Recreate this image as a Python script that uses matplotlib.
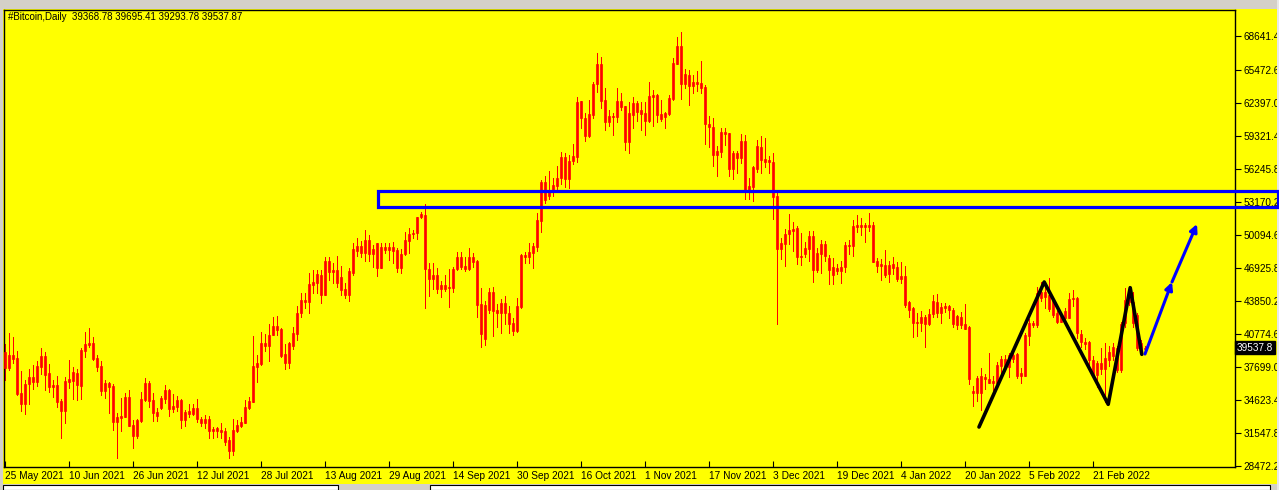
import math
import pandas as pd
import matplotlib
matplotlib.use('Agg')
import matplotlib.pyplot as plt
import matplotlib.transforms as mtransforms
from matplotlib.patches import Rectangle

plt.rcParams['font.family'] = ['Liberation Sans', 'DejaVu Sans']

# Daily bars, 25 May 2021 .. 6 Mar 2022 (all candles drawn red, so body top/bottom kept)
start_date = '2021-05-25'

body_hi = [
    39090, 38840, 38840, 38590, 35260, 36130, 36820, 36820, 37815, 38750,
    38750, 37192, 36040, 36040, 34545, 36413, 36570, 37285, 37192, 39310,
    39869, 39993, 39993, 38593, 37814, 36257, 36257, 35945, 33050, 33143,
    34918, 34918, 32302, 32769, 34731, 36257, 36257, 34638, 33486, 34855,
    35572, 35572, 34077, 34638, 34638, 33547, 33610, 33921, 33921, 32863,
    32863, 32863, 31929, 31991, 31835, 31742, 30901, 31835, 32302, 32551,
    33952, 34545, 37814, 38125, 39931, 39931, 40710, 41551, 41551, 41270,
    38935, 39931, 40866, 42734, 43980, 43980, 45474, 45661, 46409, 46315,
    47623, 47623, 46783, 46783, 46097, 45007, 46720, 48713, 49024, 49024,
    49585, 49585, 48713, 49273, 48900, 48900, 48900, 48900, 48651, 48277,
    49585, 50145, 50270, 51702, 52014, 51920, 46845, 46315, 46315, 45381,
    45381, 45225, 46876, 47966, 47966, 47156, 47966, 47966, 47623, 43575,
    43513, 44696, 44696, 43045, 43668, 43668, 42734, 41800, 43419, 48184,
    48184, 48495, 49024, 51453, 55034, 54973, 54100, 54724, 55378, 57371,
    57307, 56965, 57432, 62446, 62570, 60951, 61325, 64127, 65995, 65995,
    62664, 61169, 61169, 62570, 62570, 62103, 61418, 62352, 62352, 61729,
    61480, 63037, 63130, 63130, 61325, 61418, 62882, 66089, 67708, 67708,
    65061, 64999, 64314, 64314, 64220, 63909, 60422, 60110, 57899, 59643,
    59643, 59550, 57743, 57743, 58833, 58833, 54629, 56436, 58366, 58304,
    57152, 57059, 56903, 53696, 49273, 50145, 50520, 50613, 50737, 48090,
    48806, 49958, 49958, 48402, 49180, 49180, 47872, 47031, 46938, 47031,
    49118, 49118, 50893, 50986, 50986, 50986, 50986, 50986, 47623, 47343,
    47249, 47249, 47343, 47031, 46222, 46222, 43762, 43263, 41955, 42423,
    42423, 42641, 43886, 43824, 43357, 43450, 43450, 43045, 42516, 42423,
    41707, 41489, 35478, 36724, 36880, 36818, 36568, 36413, 37907, 38468,
    38468, 38842, 38842, 38935, 37129, 40710, 41800, 41800, 44603, 44696,
    44696, 44447, 43980, 42734, 42485, 42952, 44042, 44198, 44198, 40803,
    40025, 40087, 38374, 38063, 38063, 38530, 39091, 39620, 39464, 41738,
    43980, 44603, 43824, 42579, 39932, 39537.87,
]

body_lo = [
    37660, 37660, 38470, 35200, 34265, 34265, 36130, 36290, 36290, 37750,
    36974, 35884, 35884, 34483, 33640, 33640, 36350, 36413, 36040, 35980,
    39246, 39776, 38468, 37752, 35478, 35509, 35883, 32582, 32582, 32987,
    33081, 32240, 31306, 31306, 32707, 34638, 34576, 33454, 33174, 33921,
    34731, 33797, 33797, 34015, 32769, 32769, 33330, 33330, 32863, 32520,
    32520, 31742, 31742, 31742, 31617, 30745, 29873, 29873, 31742, 32240,
    32520, 33921, 34483, 37752, 38001, 39683, 39714, 40679, 41177, 38779,
    38063, 38100, 39700, 40803, 42734, 43824, 43824, 45381, 45599, 44447,
    44447, 46627, 46627, 45599, 44914, 44447, 44447, 46533, 48557, 48339,
    48339, 48277, 48277, 47000, 47000, 48651, 48651, 48589, 47000, 47000,
    48277, 49523, 50114, 50208, 51702, 46845, 45973, 45942, 45007, 45007,
    45007, 45070, 45132, 46845, 47031, 46845, 46845, 47560, 43513, 40803,
    40305, 43045, 42983, 42734, 42734, 42734, 41738, 41115, 41115, 43357,
    47966, 47966, 48402, 48962, 51391, 53322, 53700, 54257, 54630, 55346,
    55283, 55283, 56965, 57370, 61013, 59332, 59332, 61262, 64127, 62570,
    60640, 60640, 61107, 61107, 62041, 58771, 58771, 61262, 61574, 61356,
    60702, 60702, 62975, 61262, 60889, 61107, 61325, 62757, 66027, 64158,
    64158, 64003, 64003, 64158, 63816, 60422, 60110, 57525, 57525, 57837,
    59487, 56218, 56218, 57214, 57214, 54100, 54193, 54505, 56218, 57059,
    56903, 56903, 53633, 48744, 48713, 49180, 50114, 50425, 48028, 47965,
    48277, 48713, 46782, 46782, 48277, 48090, 46782, 46315, 46720, 46720,
    47031, 49024, 49024, 50831, 50831, 50831, 50831, 47560, 47187, 47187,
    46315, 46377, 46938, 45942, 45942, 43513, 43045, 41862, 41800, 41800,
    41738, 41738, 42641, 42796, 42796, 43201, 43045, 41738, 41644, 41644,
    41270, 36568, 35260, 35260, 35323, 36568, 36257, 36195, 36195, 37814,
    37752, 37752, 38437, 36880, 36880, 36880, 40617, 41644, 41644, 44135,
    44229, 43108, 42579, 41955, 41955, 42267, 42329, 44042, 40866, 40025,
    39869, 38374, 37067, 36973, 37534, 37534, 38374, 38779, 37440, 37441,
    41800, 43824, 41800, 39465, 39371, 39368.78,
]

highs = [
    39870, 40870, 40490, 39220, 37350, 36510, 37500, 37910, 38310, 39460,
    39154, 38000, 36510, 36880, 34700, 36818, 38375, 37750, 37500, 39465,
    40959, 41395, 40554, 38842, 38281, 36506, 36350, 36101, 33392, 34793,
    35323, 35572, 32769, 32831, 35416, 36724, 36413, 35323, 33921, 35043,
    36039, 35665, 35167, 35043, 34731, 33703, 34233, 34233, 34731, 33019,
    33236, 33143, 32085, 32085, 32458, 32053, 31212, 32863, 32769, 33019,
    34638, 34887, 40617, 38842, 40959, 40803, 41706, 42423, 42485, 41395,
    39869, 40100, 41488, 43419, 44665, 44603, 46471, 46783, 46783, 46783,
    48028, 48028, 47405, 48090, 47156, 45537, 46938, 49273, 49740, 49522,
    50519, 50052, 49118, 49336, 49336, 49273, 49273, 49429, 48806, 48713,
    50363, 50675, 50519, 51765, 52232, 52948, 47405, 47405, 46999, 45786,
    46315, 46845, 47031, 48495, 48495, 48028, 48806, 48339, 47716, 45070,
    43917, 45070, 45163, 43606, 44073, 44353, 43419, 42267, 44135, 48277,
    48495, 49336, 49336, 52076, 55190, 55564, 56050, 55400, 56500, 57800,
    57700, 57525, 58553, 62975, 62570, 61418, 62664, 64314, 67085, 66650,
    63753, 61729, 61418, 63816, 63286, 62103, 62508, 62975, 62570, 62446,
    62446, 64314, 63598, 63224, 62664, 61574, 63130, 66556, 68518, 69047,
    65559, 65466, 64999, 65373, 66307, 64065, 61169, 60951, 58366, 60079,
    60079, 59550, 57899, 57930, 59487, 59394, 55345, 56498, 58927, 59300,
    59145, 57432, 57743, 53945, 49803, 50613, 52013, 51298, 50893, 50208,
    49367, 50457, 50457, 48806, 49585, 49523, 48184, 47872, 47312, 47623,
    49429, 49585, 51453, 51920, 51609, 51142, 52076, 51235, 47872, 47810,
    48651, 47623, 48028, 47560, 47560, 47156, 43917, 43357, 42734, 42952,
    42579, 43108, 44447, 44540, 43668, 43730, 43513, 43201, 42579, 42890,
    43606, 41551, 35977, 36880, 37658, 37067, 39000, 36880, 38219, 38779,
    38842, 38997, 39153, 38997, 37596, 40866, 42174, 42049, 45225, 45692,
    45288, 46004, 44198, 42983, 42796, 43201, 44665, 44914, 44229, 41177,
    40398, 40181, 38779, 38312, 39464, 39931, 39682, 39931, 39713, 41900,
    45132, 45288, 44700, 42800, 40200, 39695.41,
]

lows = [
    36510, 37440, 38060, 35110, 33640, 33330, 34265, 35670, 35980, 37070,
    35570, 35355, 34890, 34016, 31120, 32521, 35790, 34732, 34640, 34731,
    38686, 39620, 38374, 37378, 35105, 34855, 33454, 31835, 29250, 31773,
    33019, 32240, 30185, 31057, 32614, 34576, 34015, 32676, 32707, 33766,
    34327, 33143, 33486, 33641, 32053, 32240, 33081, 33236, 32551, 32240,
    32053, 31057, 31057, 31212, 31119, 30434, 29250, 29500, 31617, 32146,
    32458, 33797, 34483, 36350, 37907, 39215, 38281, 40679, 40679, 38686,
    37534, 37600, 39400, 40243, 42423, 43263, 42796, 44602, 44602, 43730,
    44447, 45848, 45537, 45163, 44447, 44200, 43917, 46315, 48090, 48028,
    47654, 47654, 47031, 46253, 46938, 48402, 47716, 47467, 46627, 46533,
    48184, 48339, 49741, 49678, 51609, 43201, 44384, 44976, 44603, 44291,
    44852, 43357, 44696, 46783, 46845, 46720, 46783, 47031, 42423, 39620,
    39800, 42800, 40647, 41489, 40866, 41738, 40866, 40710, 41022, 43201,
    47467, 47405, 46938, 48588, 50363, 53000, 53400, 53700, 54200, 54800,
    54500, 54411, 56654, 56840, 60079, 58864, 59238, 61013, 63380, 61885,
    59861, 60235, 59394, 60577, 61729, 57992, 57743, 60079, 60702, 59861,
    59394, 60577, 60266, 60577, 60702, 60079, 61262, 62664, 66027, 62757,
    63753, 62197, 63286, 63504, 63286, 58553, 58303, 56529, 55563, 57370,
    58460, 55594, 55283, 55875, 56747, 53415, 53415, 53228, 55968, 55875,
    56436, 55812, 51547, 41737, 47810, 47187, 49211, 48588, 47312, 47249,
    48028, 47623, 45692, 46564, 46533, 47654, 45443, 45443, 46409, 45537,
    46564, 48277, 48090, 50301, 50052, 49429, 50457, 47498, 46627, 45848,
    46159, 45692, 46377, 45786, 45599, 43357, 42423, 40554, 40617, 41115,
    39620, 41644, 42423, 42423, 41800, 42890, 42267, 41489, 41240, 41333,
    41270, 36132, 34077, 34576, 33703, 35634, 36195, 35572, 36101, 36880,
    37596, 36818, 38219, 36662, 36257, 36880, 39776, 41426, 41489, 43917,
    43201, 42983, 42423, 41800, 41955, 42111, 42267, 43419, 40398, 39620,
    39371, 37752, 36818, 35883, 37036, 34483, 37814, 38374, 37223, 37300,
    41500, 43500, 41500, 39300, 38800, 39293.78,
]

last_bar = [39368.78, 39695.41, 39293.78, 39537.87]  # O H L C shown in the header

price_ticks = [68641.4, 65472.6, 62397.0, 59321.4, 56245.8, 53170.2, 50094.6,
               46925.8, 43850.2, 40774.6, 37699.0, 34623.4, 31547.8, 28472.2]

# hand-drawn objects (bar index, price)
zigzag_x = [243.5, 259.8, 275.8, 281.3, 284.2]
zigzag_y = [32115, 45662, 34236, 45129, 38907]
arrow_x = [285.0, 291.75, 298.0]
arrow_y = [38935, 45662, 51080]
zone_x = [93.25, 318.3]
zone_y = [52668, 54163]

n = len(highs)
assert len(body_hi) == n and len(body_lo) == n and len(lows) == n
dates = pd.date_range(start_date, periods=n, freq='D')
idx = list(range(n))

W, H = 1279, 490
fig = plt.figure(figsize=(W / 100, H / 100), dpi=100, facecolor='#FFFF00')
ax = fig.add_axes([4 / W, 23 / H, 1231 / W, 457 / H])
ax.set_facecolor('#FFFF00')

red = '#FF0000'
# 1 px wicks, crisp
ax.vlines(idx, lows, highs, color=red, lw=0.72, antialiased=False, zorder=2)
ax.bar(idx, [a - b for a, b in zip(body_hi, body_lo)], bottom=body_lo, width=0.72,
       color=red, edgecolor=red, linewidth=0.5, zorder=3)

ax.set_xlim(-0.25, 307.5)
ax.set_ylim(28379, 71072)

# date axis: one label every 16 bars
xt = list(range(0, n, 16))
ax.set_xticks(xt)
ax.set_xticklabels([f'{dates[i].day} {dates[i]:%b %Y}' for i in xt], fontsize=7.3)
offset = mtransforms.ScaledTranslation(2 / 72, 0, fig.dpi_scale_trans)
for lbl in ax.get_xticklabels():
    lbl.set_ha('left')
    lbl.set_transform(lbl.get_transform() + offset)
ax.tick_params(axis='x', direction='in', length=4, width=0.8, pad=3, colors='black')

ax.yaxis.tick_right()
ax.set_yticks(price_ticks)
ax.set_yticklabels([f'{v:.1f}' for v in price_ticks], fontsize=7.2)
ax.tick_params(axis='y', direction='out', length=4, width=0.8, pad=2, colors='black')

for sp in ax.spines.values():
    sp.set_color('black')
    sp.set_linewidth(1.0)

# drawings
ax.plot(zigzag_x, zigzag_y, color='black', lw=2.6, solid_capstyle='round',
        solid_joinstyle='round', zorder=5)
for i in range(len(arrow_x) - 1):
    ax.annotate('', xy=(arrow_x[i + 1], arrow_y[i + 1]), xytext=(arrow_x[i], arrow_y[i]),
                arrowprops=dict(arrowstyle='-|>', color='#0000FF', lw=2.2,
                                mutation_scale=11, shrinkA=0, shrinkB=0), zorder=5)

# current price label (terminal truncates to one decimal)
last_txt = f'{math.floor(last_bar[3] * 10) / 10:.1f}'
lbl_tr = mtransforms.blended_transform_factory(ax.transAxes, ax.transData)
ax.text(1.0015, last_bar[3], last_txt, transform=lbl_tr, ha='left', va='center',
        fontsize=7.2, color='white', zorder=6,
        bbox=dict(facecolor='black', edgecolor='black', boxstyle='square,pad=0.15'))

# header
fig.text(8 / W, 1 - 17 / H,
         '#Bitcoin,Daily  ' + ' '.join(f'{v:.2f}' for v in last_bar),
         fontsize=7.0, color='black', va='center', ha='left')

# window chrome
gray = '#D4D0C8'
fig.add_artist(Rectangle((0, 1 - 9 / H), 1, 9 / H, transform=fig.transFigure,
                         facecolor=gray, edgecolor='none', zorder=10))
fig.add_artist(Rectangle((0, 0), 1, 6 / H, transform=fig.transFigure,
                         facecolor=gray, edgecolor='none', zorder=10))
fig.add_artist(Rectangle((0, 0), 3 / W, 1, transform=fig.transFigure,
                         facecolor=gray, edgecolor='none', zorder=10))
fig.add_artist(Rectangle((1277 / W, 0), 2 / W, 1, transform=fig.transFigure,
                         facecolor='#E8E8E8', edgecolor='none', zorder=10))
fig.add_artist(Rectangle((3 / W, 0), 335 / W, 5 / H, transform=fig.transFigure,
                         facecolor='white', edgecolor='black', lw=0.8, zorder=11))
fig.add_artist(Rectangle((430 / W, 0), 840 / W, 5 / H, transform=fig.transFigure,
                         facecolor='white', edgecolor='black', lw=0.8, zorder=11))

# resistance zone drawn above the chrome so it runs to the window edge
zone = Rectangle((zone_x[0], zone_y[0]), zone_x[1] - zone_x[0], zone_y[1] - zone_y[0],
                 transform=ax.transData, fill=False, edgecolor='#0000FF', lw=2.3,
                 clip_on=False, zorder=12)
fig.add_artist(zone)

fig.savefig('out.png', dpi=100, facecolor=fig.get_facecolor())
